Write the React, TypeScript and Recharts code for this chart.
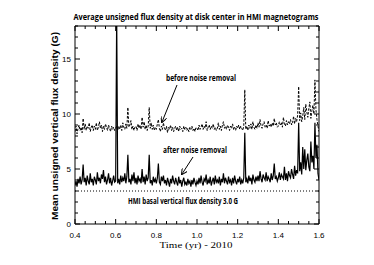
import React from "react";
import { LineChart, Line, XAxis, YAxis, ReferenceLine } from "recharts";

const times = [
  0.4, 0.405, 0.41, 0.415, 0.42, 0.425, 0.43, 0.435, 0.44, 0.445, 0.45, 0.455, 0.46, 0.465, 0.47, 0.475, 0.48, 0.485, 0.49, 0.495,
  0.5, 0.505, 0.51, 0.515, 0.52, 0.525, 0.53, 0.535, 0.54, 0.545, 0.55, 0.555, 0.56, 0.565, 0.57, 0.575, 0.58, 0.585, 0.59, 0.595,
  0.6, 0.605, 0.61, 0.615, 0.62, 0.625, 0.63, 0.635, 0.64, 0.645, 0.65, 0.655, 0.66, 0.665, 0.67, 0.675, 0.68, 0.685, 0.69, 0.695,
  0.7, 0.705, 0.71, 0.715, 0.72, 0.725, 0.73, 0.735, 0.74, 0.745, 0.75, 0.755, 0.76, 0.765, 0.77, 0.775, 0.78, 0.785, 0.79, 0.795,
  0.8, 0.805, 0.81, 0.815, 0.82, 0.825, 0.83, 0.835, 0.84, 0.845, 0.85, 0.855, 0.86, 0.865, 0.87, 0.875, 0.88, 0.885, 0.89, 0.895,
  0.9, 0.905, 0.91, 0.915, 0.92, 0.925, 0.93, 0.935, 0.94, 0.945, 0.95, 0.955, 0.96, 0.965, 0.97, 0.975, 0.98, 0.985, 0.99, 0.995,
  1.0, 1.005, 1.01, 1.015, 1.02, 1.025, 1.03, 1.035, 1.04, 1.045, 1.05, 1.055, 1.06, 1.065, 1.07, 1.075, 1.08, 1.085, 1.09, 1.095,
  1.1, 1.105, 1.11, 1.115, 1.12, 1.125, 1.13, 1.135, 1.14, 1.145, 1.15, 1.155, 1.16, 1.165, 1.17, 1.175, 1.18, 1.185, 1.19, 1.195,
  1.2, 1.205, 1.21, 1.215, 1.22, 1.225, 1.23, 1.235, 1.24, 1.245, 1.25, 1.255, 1.26, 1.265, 1.27, 1.275, 1.28, 1.285, 1.29, 1.295,
  1.3, 1.305, 1.31, 1.315, 1.32, 1.325, 1.33, 1.335, 1.34, 1.345, 1.35, 1.355, 1.36, 1.365, 1.37, 1.375, 1.38, 1.385, 1.39, 1.395,
  1.4, 1.405, 1.41, 1.415, 1.42, 1.425, 1.43, 1.435, 1.44, 1.445, 1.45, 1.455, 1.46, 1.465, 1.47, 1.475, 1.48, 1.485, 1.49, 1.495,
  1.5, 1.505, 1.51, 1.515, 1.52, 1.525, 1.53, 1.535, 1.54, 1.545, 1.55, 1.555, 1.56, 1.565, 1.57, 1.575, 1.58, 1.585, 1.59, 1.595,
  1.6,
];

// dashed: before noise removal (G)
const beforeRemoval = [
  8.4, 8.9, 8.2, 8.7, 9.0, 8.5, 8.8, 8.3, 9.6, 8.6, 9.1, 8.5, 8.9, 8.7, 9.2, 8.4, 8.8, 9.0, 8.5, 8.9,
  8.6, 9.2, 8.5, 8.8, 9.3, 8.7, 9.0, 8.4, 8.9, 8.6, 9.1, 8.8, 8.5, 9.0, 8.7, 8.4, 8.9, 8.6, 8.8, 8.5,
  8.7, 8.9, 8.5, 8.9, 8.6, 9.0, 8.5, 9.2, 8.8, 8.6, 9.1, 8.7, 10.6, 8.8, 9.0, 9.4, 8.6, 8.9, 8.5, 8.8,
  8.9, 8.5, 9.1, 8.7, 9.0, 8.6, 9.7, 8.8, 9.3, 8.6, 9.0, 8.5, 8.9, 10.6, 8.7, 9.2, 8.6, 9.0, 8.5, 8.8,
  8.6, 9.1, 9.5, 8.7, 8.4, 8.9, 8.6, 9.2, 8.7, 8.5, 8.9, 8.3, 8.8, 8.6, 9.0, 8.5, 8.8, 8.4, 8.7, 8.9,
  8.5, 8.8, 8.4, 8.9, 8.6, 8.7, 8.4, 8.9, 8.6, 8.8, 8.5, 8.7, 8.4, 8.8, 8.6, 8.9, 8.5, 8.7, 8.4, 8.8,
  8.7, 8.5, 9.0, 8.6, 8.8, 9.1, 8.6, 8.9, 8.7, 9.3, 8.5, 8.8, 9.0, 8.6, 8.9, 8.7, 9.1, 8.6, 8.8, 8.5,
  8.7, 9.2, 8.6, 8.9, 8.5, 9.0, 9.3, 8.7, 8.9, 8.6, 9.0, 8.8, 8.5, 8.9, 8.7, 9.1, 8.6, 8.8, 8.5, 8.9,
  8.7, 9.0, 8.6, 8.9, 8.7, 8.5, 8.9, 12.2, 8.6, 8.9, 8.5, 9.0, 8.7, 9.1, 8.6, 9.3, 8.8, 8.6, 9.0, 8.7,
  9.2, 8.8, 9.5, 8.9, 8.7, 9.1, 9.3, 8.8, 9.0, 8.7, 9.4, 8.9, 9.1, 8.8, 9.2, 8.9, 9.6, 9.0, 9.2, 8.8,
  8.9, 9.3, 9.0, 9.2, 8.8, 9.7, 9.1, 8.9, 9.4, 9.0, 9.3, 9.1, 9.5, 9.0, 9.2, 9.8, 9.1, 9.6, 9.3, 9.9,
  12.5, 9.4, 10.1, 9.3, 9.8, 10.6, 9.5, 10.9, 10.2, 9.7, 10.5, 11.1, 9.6, 10.3, 10.8, 10.0, 13.1, 10.4, 9.5, 8.9,
  8.4,
];

// solid: after noise removal (G); the 0.605 spike runs off the top of the plot
const afterRemoval = [
  3.5, 3.9, 3.4, 4.1, 3.7, 4.3, 3.6, 4.0, 5.4, 3.8, 4.2, 3.5, 4.4, 3.9, 3.6, 4.6, 3.8, 4.1, 3.5, 4.3,
  4.0, 3.6, 4.7, 3.9, 4.2, 3.7, 4.5, 4.1, 4.9, 3.8, 4.3, 3.6, 4.0, 4.6, 3.7, 4.2, 3.5, 3.9, 4.4, 3.8,
  3.9, 19, 3.7, 4.1, 3.6, 4.4, 3.8, 4.2, 3.9, 4.6, 3.7, 4.3, 6.3, 3.8, 4.1, 3.6, 4.5, 3.9, 4.7, 3.7,
  4.2, 3.6, 4.4, 3.9, 4.1, 3.7, 5.0, 3.8, 4.3, 3.6, 4.5, 3.9, 4.2, 6.3, 3.7, 4.0, 3.5, 4.3, 3.8, 4.1,
  3.7, 4.2, 5.5, 3.8, 3.6, 4.3, 3.9, 4.4, 3.7, 4.0, 3.5, 4.2, 3.8, 3.4, 4.1, 3.7, 4.4, 3.9, 3.6, 4.2,
  3.8, 3.5, 4.3, 3.7, 4.0, 3.4, 3.9, 4.2, 3.6, 3.8, 3.5, 4.1, 3.7, 3.9, 3.4, 4.0, 3.6, 4.2, 3.8, 3.5,
  3.9, 3.6, 4.2, 3.7, 4.4, 3.8, 3.5, 4.1, 3.9, 4.5, 3.6, 4.0, 3.7, 4.3, 3.5, 3.9, 4.2, 3.6, 4.4, 3.8,
  4.0, 3.7, 4.3, 3.5, 4.1, 3.8, 4.6, 3.7, 4.2, 3.9, 3.6, 4.3, 3.8, 4.0, 3.5, 4.2, 3.7, 4.4, 3.9, 3.6,
  4.1, 3.8, 4.3, 3.6, 4.0, 3.7, 4.2, 8.3, 3.8, 4.1, 3.7, 4.4, 3.9, 4.2, 3.6, 4.5, 4.0, 3.8, 4.3, 3.9,
  4.4, 3.9, 4.8, 4.1, 3.8, 4.5, 4.2, 4.0, 4.7, 3.9, 4.3, 4.1, 3.8, 4.6, 4.0, 4.4, 5.5, 4.1, 4.3, 3.9,
  4.2, 4.7, 4.0, 4.5, 4.3, 4.1, 5.2, 4.0, 4.6, 3.9, 4.8, 4.4, 4.2, 5.0, 4.5, 4.1, 5.3, 4.4, 4.9, 4.6,
  9.2, 4.8, 5.6, 4.5, 7.0, 5.0, 6.8, 4.9, 5.8, 6.4, 5.2, 4.8, 7.5, 5.6, 6.2, 5.0, 9.2, 6.0, 7.2, 4.6,
  4.0,
];

const basalLevel = 3.0;

const xTicks = [
  0.4, 0.45, 0.5, 0.55, 0.6, 0.65, 0.7, 0.75, 0.8, 0.85, 0.9, 0.95, 1.0,
  1.05, 1.1, 1.15, 1.2, 1.25, 1.3, 1.35, 1.4, 1.45, 1.5, 1.55, 1.6,
];
const xLabelTicks = [0.4, 0.6, 0.8, 1.0, 1.2, 1.4, 1.6];
const yTicks = [0, 1, 2, 3, 4, 5, 6, 7, 8, 9, 10, 11, 12, 13, 14, 15, 16, 17, 18];
const yLabelTicks = [0, 5, 10, 15];

const data = times.map((t, i) => ({
  t,
  before: beforeRemoval[i],
  after: afterRemoval[i],
}));

const tickFont = "'Liberation Sans', Arial, sans-serif";
const noteFont = "'Open Sans', 'Liberation Sans', sans-serif";

const isMajorX = (v: number) => xLabelTicks.some((m) => Math.abs(m - v) < 1e-6);
const isMajorY = (v: number) => yLabelTicks.includes(v);

const BottomTick = (props: any) => {
  const { x, y, payload } = props;
  const major = isMajorX(payload.value);
  return (
    <g>
      <line x1={x} y1={y} x2={x} y2={y - (major ? 5 : 3)} stroke="#000" strokeWidth={1} />
      {major && (
        <text x={x} y={y + 14} textAnchor="middle" fontSize={8} fontFamily={tickFont} fill="#000">
          {payload.value.toFixed(1)}
        </text>
      )}
    </g>
  );
};

const TopTick = (props: any) => {
  const { x, y, payload } = props;
  const major = isMajorX(payload.value);
  return <line x1={x} y1={y} x2={x} y2={y + (major ? 5 : 3)} stroke="#000" strokeWidth={1} />;
};

const LeftTick = (props: any) => {
  const { x, y, payload } = props;
  const major = isMajorY(payload.value);
  return (
    <g>
      <line x1={x} y1={y} x2={x + (major ? 5 : 3)} y2={y} stroke="#000" strokeWidth={1} />
      {major && (
        <text x={x - 4} y={y + 3} textAnchor="end" fontSize={8} fontFamily={tickFont} fill="#000">
          {payload.value}
        </text>
      )}
    </g>
  );
};

const RightTick = (props: any) => {
  const { x, y, payload } = props;
  const major = isMajorY(payload.value);
  return <line x1={x} y1={y} x2={x - (major ? 5 : 3)} y2={y} stroke="#000" strokeWidth={1} />;
};

const App = () => {
  return (
    <div style={{ position: "absolute", left: 0, top: 0, width: 374, height: 265, background: "#fff" }}>
      <LineChart
        width={374}
        height={265}
        data={data}
        margin={{ top: 25, right: 54, bottom: 21, left: 55 }}
      >
        <XAxis
          xAxisId="b"
          dataKey="t"
          type="number"
          domain={[0.4, 1.6]}
          ticks={xTicks}
          interval={0}
          allowDataOverflow
          height={20}
          tickSize={0}
          tickMargin={0}
          tickLine={false}
          tick={<BottomTick />}
          axisLine={{ stroke: "#000" }}
        />
        <XAxis
          xAxisId="top"
          orientation="top"
          dataKey="t"
          type="number"
          domain={[0.4, 1.6]}
          ticks={xTicks}
          interval={0}
          allowDataOverflow
          height={1}
          tickSize={0}
          tickMargin={0}
          tickLine={false}
          tick={<TopTick />}
          axisLine={{ stroke: "#000" }}
        />
        <YAxis
          yAxisId="l"
          type="number"
          domain={[0, 18]}
          ticks={yTicks}
          interval={0}
          allowDataOverflow
          width={20}
          tickSize={0}
          tickMargin={0}
          tickLine={false}
          tick={<LeftTick />}
          axisLine={{ stroke: "#000" }}
        />
        <YAxis
          yAxisId="r"
          orientation="right"
          type="number"
          domain={[0, 18]}
          ticks={yTicks}
          interval={0}
          allowDataOverflow
          width={1}
          tickSize={0}
          tickMargin={0}
          tickLine={false}
          tick={<RightTick />}
          axisLine={{ stroke: "#000" }}
        />
        <ReferenceLine
          xAxisId="b"
          yAxisId="l"
          y={basalLevel}
          stroke="#000"
          strokeWidth={1}
          strokeDasharray="1 2"
        />
        <Line
          xAxisId="top"
          yAxisId="r"
          type="linear"
          dataKey="before"
          stroke="#000"
          strokeWidth={1}
          strokeDasharray="2.5 1.5"
          dot={false}
          isAnimationActive={false}
        />
        <Line
          xAxisId="b"
          yAxisId="l"
          type="linear"
          dataKey="after"
          stroke="#000"
          strokeWidth={1.2}
          dot={false}
          isAnimationActive={false}
        />
      </LineChart>
      <svg
        width={374}
        height={265}
        style={{ position: "absolute", left: 0, top: 0, pointerEvents: "none" }}
      >
        <defs>
          <marker id="arrowHead" markerWidth="6" markerHeight="6" refX="5" refY="3" orient="auto">
            <path d="M0,0 L6,3 L0,6" fill="none" stroke="#000" strokeWidth={1} />
          </marker>
        </defs>
        <text
          x={196}
          y={20}
          textAnchor="middle"
          fontSize={9}
          fontWeight="bold"
          fontFamily={noteFont}
          textLength={245}
          lengthAdjust="spacingAndGlyphs"
          fill="#000"
        >
          Average unsigned flux density at disk center in HMI magnetograms
        </text>
        <text
          transform="translate(58,126) rotate(-90)"
          textAnchor="middle"
          fontSize={8.5}
          fontWeight="bold"
          fontFamily={tickFont}
          textLength={188}
          lengthAdjust="spacingAndGlyphs"
          fill="#000"
        >
          Mean unsigned vertical flux density (G)
        </text>
        <text
          x={196}
          y={248}
          textAnchor="middle"
          fontSize={9}
          fontFamily="'Liberation Serif', 'DejaVu Serif', serif"
          textLength={73}
          lengthAdjust="spacingAndGlyphs"
          fill="#000"
        >
          Time (yr) - 2010
        </text>
        <text
          x={201}
          y={81}
          textAnchor="middle"
          fontSize={8}
          fontWeight="bold"
          fontFamily={noteFont}
          textLength={70}
          lengthAdjust="spacingAndGlyphs"
          fill="#000"
        >
          before noise removal
        </text>
        <line x1={177} y1={85} x2={162} y2={122} stroke="#000" strokeWidth={1} markerEnd="url(#arrowHead)" />
        <text
          x={195}
          y={153}
          textAnchor="middle"
          fontSize={8}
          fontWeight="bold"
          fontFamily={noteFont}
          textLength={64}
          lengthAdjust="spacingAndGlyphs"
          fill="#000"
        >
          after noise removal
        </text>
        <line x1={193} y1={157} x2={182} y2={174} stroke="#000" strokeWidth={1} markerEnd="url(#arrowHead)" />
        <text
          x={183}
          y={204}
          textAnchor="middle"
          fontSize={8}
          fontWeight="bold"
          fontFamily={noteFont}
          textLength={110}
          lengthAdjust="spacingAndGlyphs"
          fill="#000"
        >
          HMI basal vertical flux density 3.0 G
        </text>
      </svg>
    </div>
  );
};

export default App;
